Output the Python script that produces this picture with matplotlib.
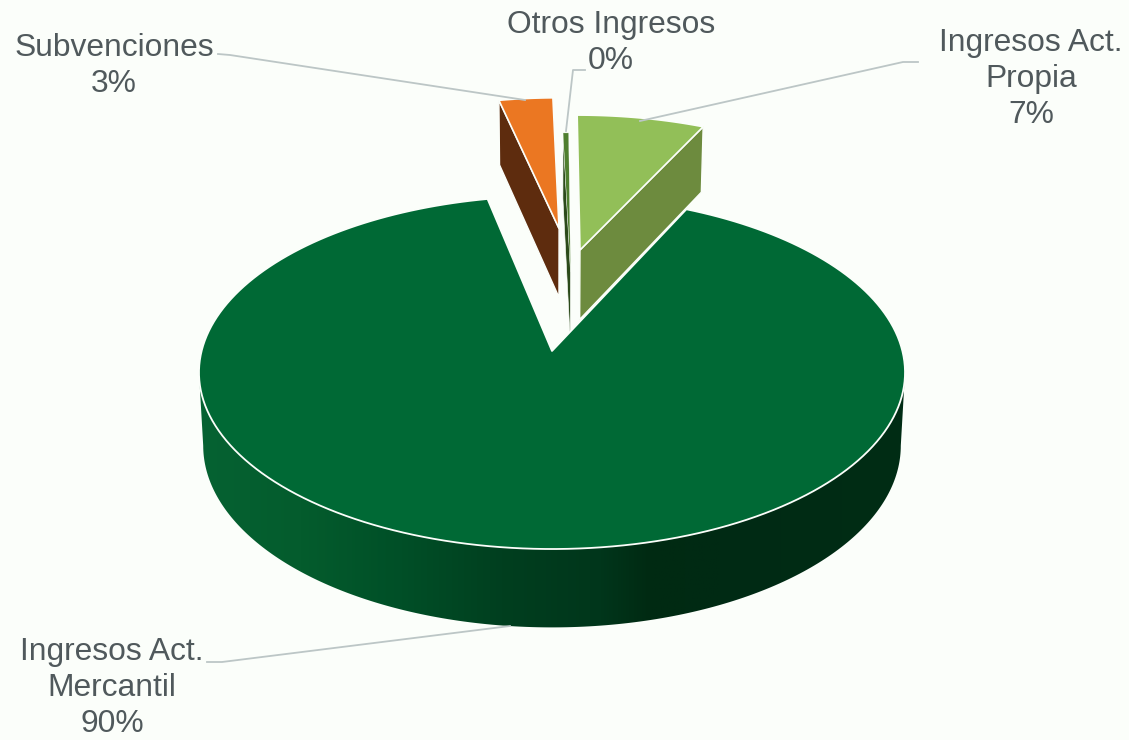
#! /usr/bin/env python

import numpy as np
import matplotlib
matplotlib.use('Agg')
import matplotlib.pyplot as plt
from matplotlib.colors import LinearSegmentedColormap
from matplotlib.patches import Polygon

# data, clockwise from 12 o'clock
labels = ['Ingresos Act.\nPropia', 'Ingresos Act.\nMercantil', 'Subvenciones', 'Otros Ingresos']
values = [7.0, 89.7, 3.0, 0.3]
pct_labels = ['7%', '90%', '3%', '0%']

# explosion of every slice in the plane of the pie (unit = radius)
offset_u = [0.086, 0.0, 0.022, 0.056]
offset_v = [0.625, 0.0, 0.77, 0.48]

top_colors = ['#92BF58', '#006935', '#EB7722', '#4F7F2F']
side_colors = ['#6D8B3E', None, '#5E2C0E', '#2B4A1A']

# wall shading, position along the width of the pie and colour
side_pos = [0.0, 0.145, 0.287, 0.43, 0.57, 0.64, 0.74, 1.0]
side_stops = ['#066232', '#045C2D', '#004F27', '#003F1F', '#00361B', '#002A12', '#002A14', '#002D15']

bg = '#FBFEFA'
text_col = '#50595C'
line_col = '#BCC6C6'

# projection of the tilted pie
x0, y0 = 552, 351
sx, sy = 350.4, 173.9
k = 0.1218
depth = 72.5
shrink = 0.988


def project(u, v, lower=False):
    w = 1 + k * v
    x = sx * u / w
    y = y0 - sy * v / w
    if lower:
        return x0 + x * shrink, y + depth / w ** 0.6
    return x0 + x, y


def arc(a, b, du, dv, lower=False, n=200):
    t = np.radians(np.linspace(a, b, n))
    return project(du + np.sin(t), dv + np.cos(t), lower)


fig = plt.figure(figsize=(11.29, 7.40), dpi=100, facecolor=bg)
ax = fig.add_axes([0, 0, 1, 1])
ax.set_xlim(0, 1129)
ax.set_ylim(740, 0)
ax.axis('off')

angles = np.cumsum([0] + values) * 3.6

# big slice first, the wall is a gradient clipped to the outline
a, b = angles[1], angles[2]
xt, yt = arc(97, 263, 0, 0)
xb, yb = arc(97, 263, 0, 0, lower=True)
wall = Polygon(np.c_[np.r_[xt, xb[::-1]], np.r_[yt, yb[::-1]]], fc='none', ec='none')
ax.add_patch(wall)
cmap = LinearSegmentedColormap.from_list('wall', list(zip(side_pos, side_stops)))
im = ax.imshow(np.linspace(0, 1, 512)[None, :], cmap=cmap, extent=(198, 905, 640, 360),
               aspect='auto', zorder=1)
im.set_clip_path(wall)
ax.set_xlim(0, 1129)
ax.set_ylim(740, 0)

xt, yt = arc(a, b, 0, 0)
xa, ya = project(0.0, 0.0)
ax.add_patch(Polygon(np.c_[np.r_[xa, xt], np.r_[ya, yt]], fc=top_colors[1], ec=bg, lw=1.3,
                     joinstyle='round', zorder=2))

# the three pulled out slices
for i in [2, 3, 0]:
    a, b = angles[i], angles[i + 1]
    du, dv = offset_u[i], offset_v[i]
    # radial face that can be seen: right edge for the first slice, left edge for the others
    edge = b if i == 0 else a
    xe, ye = project(du + np.sin(np.radians(edge)), dv + np.cos(np.radians(edge)))
    xf, yf = project(du + np.sin(np.radians(edge)), dv + np.cos(np.radians(edge)), lower=True)
    xa, ya = project(du, dv)
    xc, yc = project(du, dv, lower=True)
    # the tip of the thin slice goes behind the big one
    ax.add_patch(Polygon([(xa, ya), (xe, ye), (xf, yf), (xc, yc)], fc=side_colors[i],
                         ec=bg, lw=1.0 if i != 3 else 0.45, zorder=3 if i != 3 else 1.5))
    xt, yt = arc(a, b, du, dv, n=40)
    ax.add_patch(Polygon(np.c_[np.r_[xa, xt], np.r_[ya, yt]], fc=top_colors[i],
                         ec=bg, lw=1.2 if i != 3 else 0.2, zorder=4))

# leader lines
leaders = [
    ([918, 903, 640], [62, 62, 121]),
    ([207, 222, 510], [662, 662, 626]),
    ([218, 230, 525], [54, 55, 100]),
    ([585, 573, 566], [70, 70, 131]),
]
for lx, ly in leaders:
    ax.plot(lx, ly, color=line_col, lw=1.3, zorder=5)

# data labels
label_pos = [(1031, 79), (112, 688), (114, 66), (611, 43)]
for name, pct, (tx, ty) in zip(labels, pct_labels, label_pos):
    ax.text(tx, ty, name + '\n' + pct, ha='center', va='center', color=text_col,
            fontsize=22.9, family='Liberation Sans', linespacing=1.28, zorder=6)

fig.savefig('out.png', dpi=100, facecolor=bg)
